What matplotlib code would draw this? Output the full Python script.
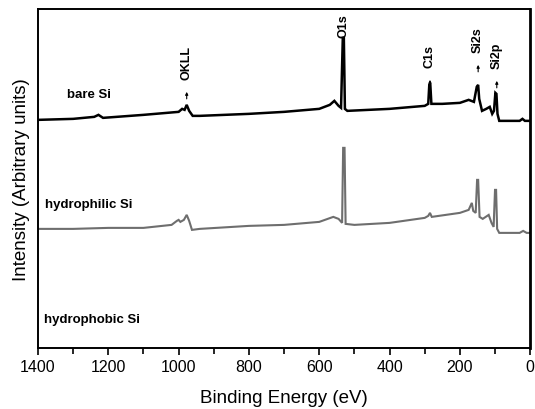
import matplotlib
matplotlib.use("Agg")
import matplotlib.pyplot as plt
from matplotlib.ticker import MultipleLocator

plt.rcParams['font.family'] = ['Liberation Sans', 'DejaVu Sans']

# Binding energy (eV) and intensity (arbitrary units)
bare_energy = [1400, 1300, 1240, 1228, 1215, 1100, 1000, 990, 983, 977, 970, 960, 940,
               800, 700, 600, 570, 557, 545, 538, 533, 530, 527, 520, 400, 300, 290,
               287, 284, 281, 250, 200, 175, 160, 152, 148, 145, 137, 125, 115, 108,
               103, 99, 96, 93, 88, 60, 30, 22, 15, 0]
bare_intensity = [228, 229, 231, 233, 230, 233, 236, 239, 238, 243, 237, 232, 232,
                  234, 236, 239, 243, 247, 242, 240, 310, 310, 239, 237, 239, 242, 244,
                  263, 263, 244, 244, 245, 248, 246, 261, 263, 249, 237, 239, 241, 234,
                  237, 255, 254, 234, 227, 227, 227, 229, 227, 227]

philic_energy = [1400, 1300, 1200, 1100, 1020, 1005, 1000, 995, 985, 977, 970, 962, 940,
                 800, 700, 600, 560, 545, 535, 532, 528, 525, 500, 400, 300, 290, 285,
                 280, 200, 175, 166, 162, 155, 151, 148, 144, 135, 118, 110, 104, 100,
                 97, 94, 88, 30, 20, 10, 0]
philic_intensity = [119, 119, 120, 120, 123, 127, 128, 126, 128, 133, 127, 118, 119,
                    122, 123, 126, 131, 129, 125, 200, 200, 124, 123, 125, 130, 132, 135,
                    131, 135, 138, 145, 137, 135, 168, 168, 131, 129, 133, 125, 121, 158,
                    158, 119, 115, 115, 117, 115, 115]

peak_names = ["OKLL", "O1s", "C1s", "Si2s", "Si2p"]
peak_energy = [977, 531, 285, 148, 95]
peak_text_y = [269, 311, 281, 296, 280]
peak_arrow = [True, False, True, True, True]

sample_names = ["bare Si", "hydrophilic Si", "hydrophobic Si"]
sample_label_x = [1317, 1380, 1383]
sample_label_y = [254, 144, 29]

x_ticks = [1400, 1200, 1000, 800, 600, 400, 200, 0]

fig = plt.figure(figsize=(5.35, 4.10), dpi=100)
ax = fig.add_axes([0.071, 0.149, 0.92, 0.827])

ax.plot(bare_energy, bare_intensity, color='black', lw=1.8, solid_joinstyle='miter')
ax.plot(philic_energy, philic_intensity, color='#6e6e6e', lw=1.5, solid_joinstyle='miter')

for name, e, ty, arr in zip(peak_names, peak_energy, peak_text_y, peak_arrow):
    ax.text(e, ty, name, rotation=90, ha='center', va='bottom',
            fontsize=9, fontweight='bold')
    if arr:
        ax.annotate('', xy=(e, ty - 13), xytext=(e, ty - 20),
                    arrowprops=dict(arrowstyle='-|>', color='black', lw=0.8,
                                    mutation_scale=4, shrinkA=0, shrinkB=0))

for name, sx, sy in zip(sample_names, sample_label_x, sample_label_y):
    ax.text(sx, sy, name, ha='left', va='center', fontsize=9.5, fontweight='bold')

ax.set_xlim(1400, 0)
ax.set_ylim(0, 339)
ax.set_xticks(x_ticks)
ax.xaxis.set_minor_locator(MultipleLocator(100))
ax.set_yticks([])
ax.tick_params(axis='x', which='major', direction='out', length=5, width=1.2,
               labelsize=11.5, pad=3)
ax.tick_params(axis='x', which='minor', direction='out', length=4, width=1.2)
for s in ax.spines.values():
    s.set_linewidth(1.4)
ax.spines['right'].set_linewidth(2.0)

ax.set_xlabel('Binding Energy (eV)', fontsize=13.5, labelpad=11)
ax.set_ylabel('Intensity (Arbitrary units)', fontsize=13.5, labelpad=6)

fig.savefig('out.png', dpi=100)
